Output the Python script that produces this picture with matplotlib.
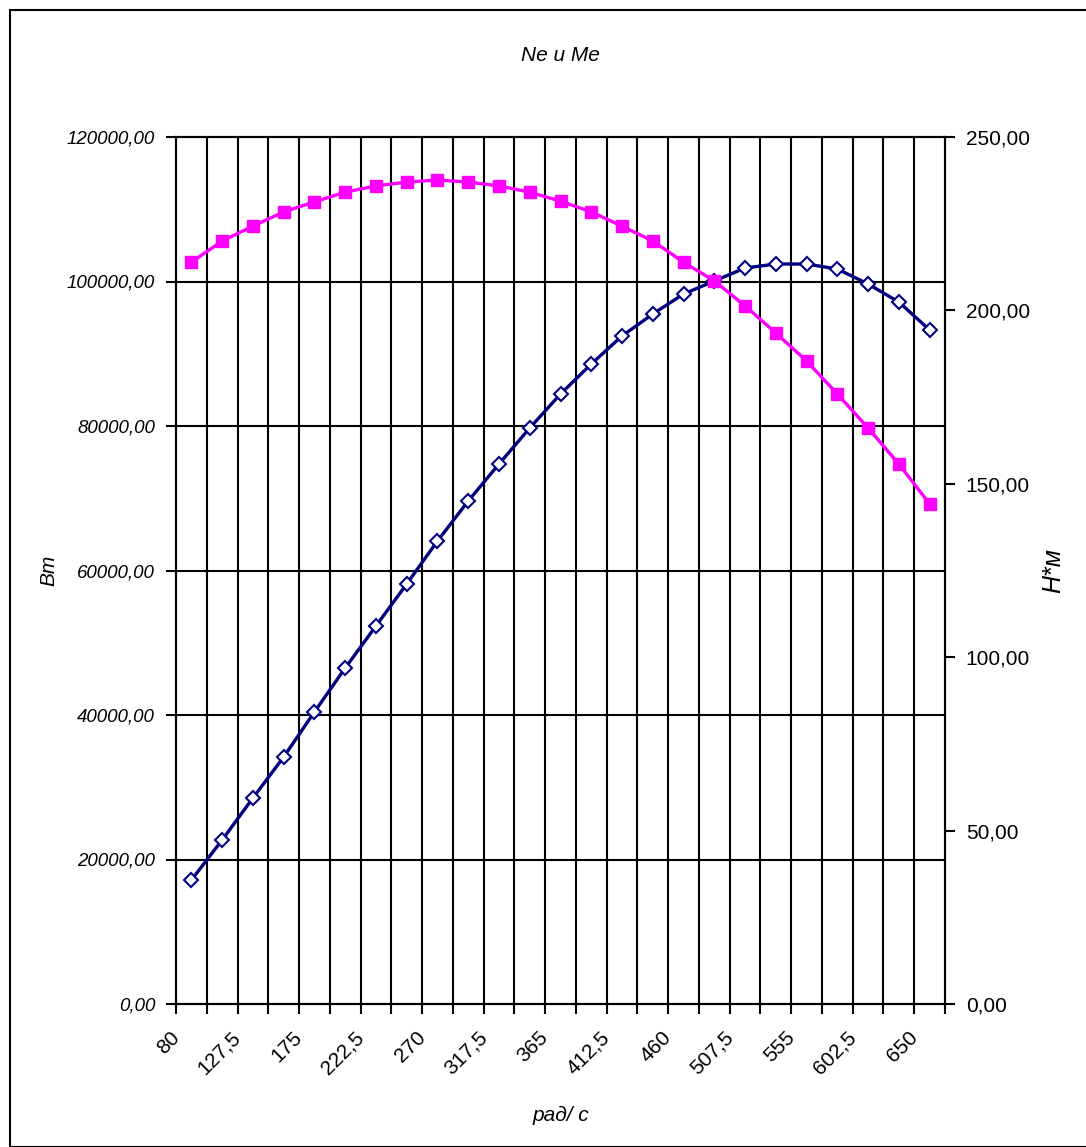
import numpy as np
import matplotlib.pyplot as plt
import matplotlib.transforms as mtransforms
from matplotlib.patches import Rectangle

plt.rcParams['font.family'] = ['Liberation Sans', 'DejaVu Sans']

# angular speed, rad/s (25 categories)
omega = ['80', '103,75', '127,5', '151,25', '175', '198,75', '222,5', '246,25', '270',
         '293,75', '317,5', '341,25', '365', '388,75', '412,5', '436,25', '460',
         '483,75', '507,5', '531,25', '555', '578,75', '602,5', '626,25', '650']

# Ne, W (left axis)
Ne = [17160, 22700, 28510, 34190, 40420, 46500, 52320, 58130, 64080, 69620,
      74740, 79720, 84430, 88580, 92460, 95500, 98270, 100070, 101870, 102420,
      102420, 101730, 99650, 97160, 93290]

# Me, N*m (right axis)
Me = [213.9, 220.0, 224.3, 228.4, 231.3, 234.1, 235.9, 237.0, 237.6, 237.0,
      235.9, 234.1, 231.5, 228.4, 224.3, 220.0, 213.9, 208.5, 201.3, 193.5,
      185.4, 175.9, 166.1, 155.7, 144.2]

fig = plt.figure(figsize=(10.86, 11.47), dpi=100)
ax = fig.add_axes([176/1086, 1 - 1004/1147, (945-176)/1086, (1004-137)/1147])
ax2 = ax.twinx()

x = np.arange(len(omega)) + 0.5

ax.plot(x, Ne, color='#000080', lw=2.4, marker='D', ms=7.5, mfc='white',
        mec='#000080', mew=1.5, zorder=3)
ax2.plot(x, Me, color='#FF00FF', lw=2.4, marker='s', ms=8, mfc='#FF00FF',
         mec='#FF00FF', zorder=3)

ax.set_xlim(0, len(omega))
ax.set_ylim(0, 120000)
ax2.set_ylim(0, 250)

# vertical grid at category boundaries
for i in range(1, len(omega)):
    ax.axvline(i, color='black', lw=1.5, zorder=1)
for v in range(20000, 120000, 20000):
    ax.axhline(v, color='black', lw=1.5, zorder=1)

ax.set_xticks(np.arange(len(omega) + 1))
ax.set_xticklabels([])
ax.set_xticks(x[::2], minor=True)
ax.set_xticklabels(omega[::2], minor=True, rotation=45, ha='right', va='center',
                   rotation_mode='anchor', fontsize=15)
ax.tick_params(axis='x', which='minor', length=0, pad=22)
ax.tick_params(axis='x', which='major', length=7, width=1.5, direction='out')
shift = mtransforms.ScaledTranslation(-15/100, 0, fig.dpi_scale_trans)
for lbl in ax.get_xticklabels(minor=True):
    lbl.set_transform(lbl.get_transform() + shift)

yt = np.arange(0, 120001, 20000)
ax.set_yticks(yt)
ax.set_yticklabels([f'{v:.2f}'.replace('.', ',') for v in yt], fontsize=13.5,
                   fontstyle='italic')
ax.tick_params(axis='y', length=7, width=1.5, pad=8)

yt2 = np.arange(0, 251, 50)
ax2.set_yticks(yt2)
ax2.set_yticklabels([f'{v:.2f}'.replace('.', ',') for v in yt2], fontsize=15)
ax2.tick_params(axis='y', length=7, width=1.5, pad=8)

for a in (ax, ax2):
    for s in a.spines.values():
        s.set_linewidth(1.5)

ax.set_xlabel('рад/ с', fontsize=15, fontstyle='italic', labelpad=20)
ax.set_ylabel('Вт', fontsize=15, fontstyle='italic')
ax.yaxis.set_label_coords(-0.153, 0.5)
ax2.set_ylabel('Н*м', fontsize=18, fontstyle='italic', labelpad=8)
ax.set_title('Ne и Me', fontsize=15, fontstyle='italic', pad=55)

fig.patches.append(Rectangle((10/1086, 0), 1.2, 1 - 10/1147, transform=fig.transFigure,
                             fill=False, edgecolor='black', lw=1.5))

fig.savefig('out.png', dpi=100)
